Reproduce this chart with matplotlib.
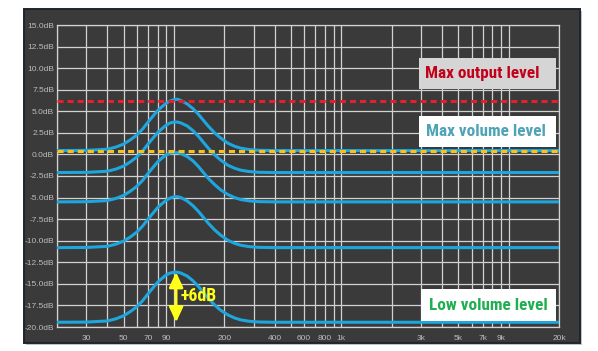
import matplotlib
matplotlib.use("Agg")
import matplotlib.pyplot as plt
from matplotlib.patches import Rectangle
from matplotlib.ticker import FixedLocator, NullFormatter, NullLocator
from matplotlib import font_manager

# ---------------- data ----------------
freqs = [20, 30, 40, 45, 50, 55, 60, 65, 70, 75, 80, 85, 90, 95, 100, 105, 110,
         120, 130, 140, 150, 160, 175, 190, 210, 230, 250, 280, 320, 400, 1000, 20000]

curve_max = [0.45, 0.47, 0.6, 0.85, 1.2, 1.7, 2.25, 2.95, 3.75, 4.45, 5.1, 5.55, 5.95, 6.2,
             6.35, 6.4, 6.25, 5.85, 5.3, 4.65, 3.95, 3.3, 2.5, 1.9, 1.3, 0.95, 0.73, 0.57,
             0.48, 0.45, 0.45, 0.45]
curve_2 = [-2.1, -2.08, -1.95, -1.7, -1.35, -0.85, -0.3, 0.4, 1.2, 1.9, 2.55, 3.0, 3.4, 3.65,
           3.75, 3.75, 3.65, 3.3, 2.75, 2.1, 1.4, 0.75, -0.05, -0.65, -1.25, -1.6, -1.82,
           -1.98, -2.07, -2.1, -2.1, -2.1]
curve_3 = [-5.5, -5.48, -5.35, -5.1, -4.75, -4.25, -3.7, -3.0, -2.2, -1.5, -0.85, -0.4, -0.05,
           0.15, 0.2, 0.2, 0.1, -0.25, -0.75, -1.4, -2.1, -2.75, -3.5, -4.1, -4.65, -5.0,
           -5.22, -5.38, -5.47, -5.5, -5.5, -5.5]
curve_4 = [-10.8, -10.78, -10.65, -10.4, -10.05, -9.55, -9.0, -8.3, -7.5, -6.8, -6.15, -5.7,
           -5.3, -5.05, -4.9, -4.9, -5.0, -5.4, -5.95, -6.6, -7.3, -7.95, -8.75, -9.35,
           -9.95, -10.3, -10.52, -10.68, -10.77, -10.8, -10.8, -10.8]
curve_low = [-19.45, -19.43, -19.3, -19.05, -18.7, -18.2, -17.65, -16.95, -16.15, -15.45,
             -14.8, -14.35, -13.95, -13.75, -13.65, -13.65, -13.75, -14.1, -14.65, -15.3,
             -16.0, -16.65, -17.45, -18.05, -18.6, -18.95, -19.17, -19.33, -19.42, -19.45,
             -19.45, -19.45]
curves = [curve_max, curve_2, curve_3, curve_4, curve_low]

max_output_db = 6.2
max_volume_db = 0.4

arrow_freq = 103
arrow_top_db = -13.65
arrow_bottom_db = -19.45
gain_label = "+6dB"

y_ticks = [15.0, 12.5, 10.0, 7.5, 5.0, 2.5, 0.0, -2.5, -5.0, -7.5, -10.0, -12.5, -15.0, -17.5, -20.0]
y_tick_labels = ["%.1fdB" % v for v in y_ticks]
x_label_vals = [30, 50, 70, 90, 200, 400, 600, 800, 1000, 3000, 5000, 7000, 9000, 20000]
x_label_text = ["30", "50", "70", "90", "200", "400", "600", "800", "1k",
                "3k", "5k", "7k", "9k", "20k"]
x_grid_vals = ([20, 30, 40, 50, 60, 70, 80, 90, 100]
               + [200, 300, 400, 500, 600, 700, 800, 900, 1000]
               + [2000, 3000, 4000, 5000, 6000, 7000, 8000, 9000, 10000, 20000])

label_max_output = "Max output level"
label_max_volume = "Max volume level"
label_low_volume = "Low volume level"

# ---------------- styles ----------------
BG = "#3a3a3a"
GRID = "#d2d2d2"
TICK = "#bcbcbc"
BLUE = "#1ea6de"
RED = "#e3202b"
YEL = "#f5c21f"
ARROW = "#ffff1a"

_installed = {f.name for f in font_manager.fontManager.ttflist}
_cands = ["Liberation Sans Narrow", "DejaVu Sans Condensed", "Roboto Condensed",
          "Open Sans Condensed", "Noto Sans Condensed"]
_narrow = [c for c in _cands if c in _installed]
if _narrow:
    NARROW = [_narrow[0], "DejaVu Sans"]
    LABEL_SIZE = 12.3
    GAIN_SIZE = 12.8
else:
    NARROW = ["Liberation Sans", "DejaVu Sans"]
    LABEL_SIZE = 10.3
    GAIN_SIZE = 10.5

W, H = 598, 351
fig = plt.figure(figsize=(W / 100, H / 100), dpi=100)
fig.patch.set_facecolor("white")

def fx(px):
    return px / W

def fy(py):
    return 1 - py / H

# dark panel with a shadow/border
fig.patches.append(Rectangle((fx(26), fy(345)), fx(556), (334) / H, transform=fig.transFigure,
                             facecolor="#9a9a9a", edgecolor="none", zorder=-20, alpha=0.6))
fig.patches.append(Rectangle((fx(24), fy(343)), fx(556), (334) / H, transform=fig.transFigure,
                             facecolor=BG, edgecolor="#1d2531", linewidth=1.4, zorder=-10))

ax = fig.add_axes([fx(57), fy(327), fx(559 - 57), (327 - 25) / H])
ax.set_zorder(1)
ax.set_facecolor(BG)
ax.set_xscale("log")
ax.set_xlim(20, 20000)
ax.set_ylim(-20, 15)

for s in ax.spines.values():
    s.set_color(GRID)
    s.set_linewidth(0.9)

ax.xaxis.set_major_locator(FixedLocator(x_grid_vals))
ax.xaxis.set_minor_locator(NullLocator())
ax.xaxis.set_major_formatter(NullFormatter())
ax.grid(True, which="major", axis="x", color=GRID, linewidth=0.9)
ax.set_yticks(y_ticks)
ax.set_yticklabels(y_tick_labels)
ax.grid(True, which="major", axis="y", color=GRID, linewidth=0.9)
ax.tick_params(axis="both", length=0, colors=TICK, labelsize=6)
ax.tick_params(axis="y", pad=2)
for t in ax.get_yticklabels():
    t.set_family(["Liberation Sans", "DejaVu Sans"])
ax.set_axisbelow(True)

# x tick labels as text below the axis
for v, s in zip(x_label_vals, x_label_text):
    ax.text(v, -0.025, s, transform=ax.get_xaxis_transform(), ha="center", va="top",
            fontsize=6, color=TICK, family=["Liberation Sans", "DejaVu Sans"])

# curves
for c in curves:
    ax.plot(freqs, c, color=BLUE, linewidth=2.2, solid_capstyle="butt", zorder=3)

ax.axhline(max_output_db, color=RED, linewidth=2.2, dashes=(2.0, 1.3), zorder=4)
ax.axhline(max_volume_db, color=YEL, linewidth=2.2, dashes=(2.0, 1.3), zorder=4)

# +6dB arrow
ax.annotate("", xy=(arrow_freq, arrow_top_db), xytext=(arrow_freq, arrow_bottom_db),
            arrowprops=dict(arrowstyle="<|-|>,head_length=0.9,head_width=0.42",
                            color=ARROW, lw=2.0, shrinkA=0, shrinkB=0), zorder=5)
ax.text(109, -16.4, gain_label, ha="left", va="center", fontsize=GAIN_SIZE,
        fontweight="bold", color=ARROW, family=NARROW, zorder=6)

# label boxes
def box(x0, x1, y0, y1, fc):
    ax.add_patch(Rectangle((x0, y0), x1 - x0, y1 - y0, transform=ax.transAxes,
                           facecolor=fc, edgecolor="none", zorder=7))

box(0.721, 0.994, 0.788, 0.891, "#d5d5d5")
box(0.721, 0.994, 0.596, 0.699, "white")
box(0.725, 0.994, 0.020, 0.126, "white")

ax.text(0.8476, 0.839, label_max_output, transform=ax.transAxes, ha="center", va="center",
        fontsize=LABEL_SIZE, fontweight="bold", color="#c3001b", family=NARROW, zorder=8)
ax.text(0.8536, 0.649, label_max_volume, transform=ax.transAxes, ha="center", va="center",
        fontsize=LABEL_SIZE, fontweight="bold", color="#4ea3b6", family=NARROW, zorder=8)
ax.text(0.8586, 0.0705, label_low_volume, transform=ax.transAxes, ha="center", va="center",
        fontsize=LABEL_SIZE, fontweight="bold", color="#1fae50", family=NARROW, zorder=8)

fig.savefig("out.png", dpi=100, facecolor=fig.get_facecolor())
